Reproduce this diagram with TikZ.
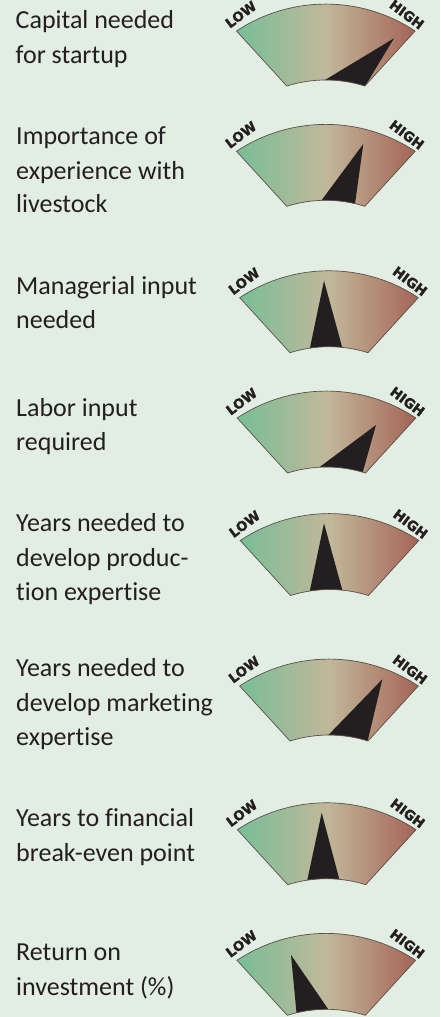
\documentclass[tikz,border=0pt]{standalone}
\usepackage{fontspec}
\setmainfont[RawFeature={-liga;-clig;-dlig}]{Carlito}
\newfontfamily\lblfont[BoldFeatures={FakeBold=1.6}]{DejaVu Sans}
\usetikzlibrary{calc}
\definecolor{bg}{HTML}{E2EDE3}
\definecolor{gL}{HTML}{78BE96}
\definecolor{gM}{HTML}{C1B89B}
\definecolor{gR}{HTML}{A56455}
\definecolor{ink}{HTML}{231F20}
\definecolor{rim}{HTML}{5A5048}
\tikzset{
  txt/.style={anchor=base west, inner sep=0pt, text=ink, font=\fontsize{26}{34}\selectfont},
  lbl/.style={inner sep=0pt, text=ink, font=\lblfont\bfseries\fontsize{13.5}{14}\selectfont},
  rimline/.style={draw=rim, line width=0.7pt},
  needle/.style={fill=ink}
}
\newcommand\drawgauge[6]{%
  \begin{scope}[shift={(#2,#3)}]
    \shade[left color=gL, right color=gR, middle color=gM] (-89.3,27) .. controls (-35.25,-8.9) and (35.25,-8.9) .. (89.3,27) -- (39,82) .. controls (13.63,74) and (-13.63,74) .. (-39,82) -- cycle;
    \begin{scope}
      \clip (-89.3,27) .. controls (-35.25,-8.9) and (35.25,-8.9) .. (89.3,27) -- (39,82) .. controls (13.63,74) and (-13.63,74) .. (-39,82) -- cycle;
      \coordinate (#1t) at (#4);
      \coordinate (#1l) at (#5);
      \coordinate (#1r) at (#6);
      \fill[needle] (#1t) -- ($(#1t)!1.4!(#1l)$) -- ($(#1t)!1.4!(#1r)$) -- cycle;
    \end{scope}
    \draw[rimline] (-89.3,27) .. controls (-35.25,-8.9) and (35.25,-8.9) .. (89.3,27) -- (39,82) .. controls (13.63,74) and (-13.63,74) .. (-39,82) -- cycle;
    \node[lbl, rotate=37] (#1low) at (-85,10.5) {LOW};
    \node[lbl, rotate=-37] (#1high) at (81,10.5) {HIGH};
  \end{scope}}
\begin{document}
\begin{tikzpicture}[x=1pt, y=-1pt]
  \fill[bg] (0,0) rectangle (440,1017);
  \useasboundingbox (0,0) rectangle (440,1017);

  \node[txt] (a1) at (15.5,28.3) {Capital needed};
  \node[txt] (a2) at (15.5,63.3) {for startup};

  \node[txt] (b1) at (16,144) {Importance of};
  \node[txt] (b2) at (16,179) {experience with};
  \node[txt] (b3) at (16,212.7) {livestock};

  \node[txt] (c1) at (16,294.3) {Managerial input};
  \node[txt] (c2) at (16,328.7) {needed};

  \node[txt] (d1) at (16,416) {Labor input};
  \node[txt] (d2) at (16,450) {required};

  \node[txt] (e1) at (16,531.7) {Years needed to};
  \node[txt] (e2) at (16,566) {develop produc-};
  \node[txt] (e3) at (16,600.5) {tion expertise};

  \node[txt] (f1) at (16,676.7) {Years needed to};
  \node[txt] (f2) at (16,711) {develop marketing};
  \node[txt] (f3) at (16,745.5) {expertise};

  \node[txt] (g1) at (16,826) {Years to financial};
  \node[txt] (g2) at (16,861) {break-even point};

  \node[txt] (h1) at (16,960) {Return on};
  \node[txt] (h2) at (16,995) {investment (\%)};

  \drawgauge{ga}{325.8}{4}{68.2,34.3}{-0.8,76}{39.9,81}
  \drawgauge{gb}{325.8}{124.3}{37.5,19.7}{-4.8,76.7}{29.2,79.7}
  \drawgauge{gc}{329}{270.7}{-5,10}{-19,77}{13.3,77}
  \drawgauge{gd}{326.5}{391}{49.5,34}{-5.5,75}{36.2,81.3}
  \drawgauge{ge}{329.5}{513.5}{-5.5,9.8}{-19.5,76.5}{12.8,76.5}
  \drawgauge{gf}{329}{659}{53.3,20.3}{-1.3,76.7}{38.7,81.7}
  \drawgauge{gg}{326.7}{802.7}{-5,10}{-19.4,77.3}{12.6,76.6}
  \drawgauge{gh}{326.3}{933.3}{-35.3,21.7}{-29.6,81.7}{2,76}
\end{tikzpicture}
\end{document}
